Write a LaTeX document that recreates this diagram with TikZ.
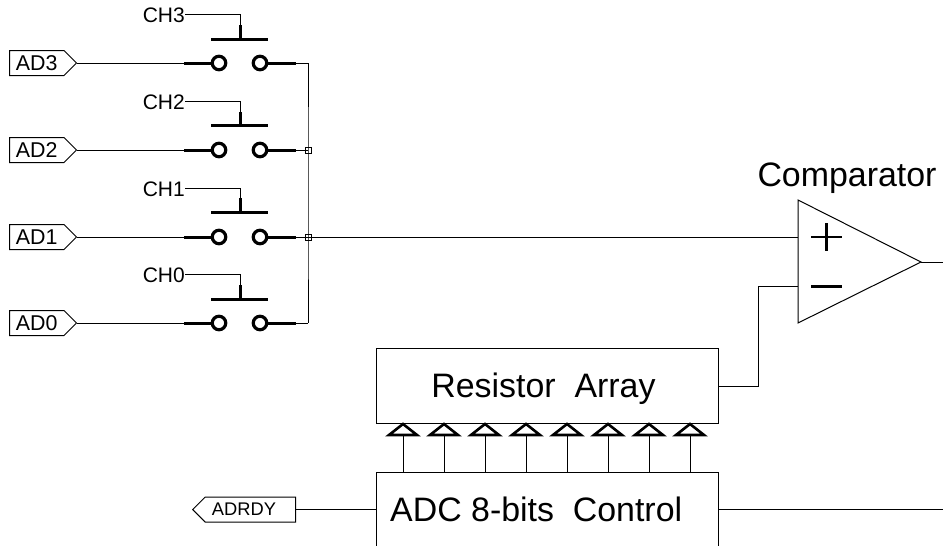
\documentclass[tikz,border=0pt]{standalone}
\usepackage{fontspec}
\setmainfont{Liberation Sans}
\usetikzlibrary{shapes.symbols}
\tikzset{
  wire/.style={black,line width=1pt},
  heavy/.style={black,line width=3pt},
  contact/.style={circle,draw=black,line width=3.2pt,minimum size=13.5pt,inner sep=0pt},
  tag/.style={signal,signal to=east,signal pointer angle=90,draw=black,line width=1pt,minimum width=67pt,minimum height=25pt,inner sep=0pt,font=\fontsize{21.4}{21.4}\selectfont},
  rdytag/.style={signal,signal to=west,signal pointer angle=90,draw=black,line width=1pt,minimum width=103pt,minimum height=25pt,inner sep=0pt,font=\fontsize{18.3}{18.3}\selectfont},
  chlabel/.style={anchor=base east,inner sep=0pt,font=\fontsize{21}{21}\selectfont},
  junction/.style={rectangle,draw=black,line width=0.8pt,minimum size=6pt,inner sep=0pt},
  bigtext/.style={anchor=base west,inner sep=0pt,font=\fontsize{33.9}{33.9}\selectfont},
  block/.style={rectangle,draw=black,line width=1pt,inner sep=0pt},
  tap/.style={black,line width=2.6pt,line join=miter}
}
\begin{document}
\begin{tikzpicture}[x=1pt,y=-1pt]
\useasboundingbox (0,0) rectangle (943,546);
\node [tag,anchor=west] (ad3) at (9,63) {AD3};
\node [tag,anchor=west] (ad2) at (9,150) {AD2};
\node [tag,anchor=west] (ad1) at (9,237) {AD1};
\node [tag,anchor=west] (ad0) at (9,323) {AD0};
\node [contact] (l3) at (219,63) {};
\node [contact] (r3) at (260,63) {};
\node [contact] (l2) at (219,150) {};
\node [contact] (r2) at (260,150) {};
\node [contact] (l1) at (219,237) {};
\node [contact] (r1) at (260,237) {};
\node [contact] (l0) at (219,323) {};
\node [contact] (r0) at (260,323) {};
\coordinate (in3) at (184,63);
\coordinate (in2) at (184,150);
\coordinate (in1) at (184,237);
\coordinate (in0) at (184,323);
\coordinate (out3) at (296,63);
\coordinate (out2) at (296,150);
\coordinate (out1) at (296,237);
\coordinate (out0) at (296,323);
\coordinate (j3) at (308,63);
\node [junction] (j2) at (308,150) {};
\node [junction] (j1) at (308,237) {};
\coordinate (j0) at (308,323);
\draw [wire] (ad3.east) -- (in3);
\draw [wire] (ad2.east) -- (in2);
\draw [wire] (ad1.east) -- (in1);
\draw [wire] (ad0.east) -- (in0);
\draw [heavy] (in3) -- (l3.west);
\draw [heavy] (in2) -- (l2.west);
\draw [heavy] (in1) -- (l1.west);
\draw [heavy] (in0) -- (l0.west);
\draw [heavy] (r3.east) -- (out3);
\draw [heavy] (r2.east) -- (out2);
\draw [heavy] (r1.east) -- (out1);
\draw [heavy] (r0.east) -- (out0);
\draw [wire] (out3) -- (j3);
\draw [wire] (out2) -- (j2.center);
\draw [wire] (out1) -- (j1.center);
\draw [wire] (out0) -- (j0);
\draw [wire] (j3) -- (j2.center) -- (j1.center) -- (j0);
\node [chlabel] (ch3) at (185,22) {CH3};
\node [chlabel] (ch2) at (185,109) {CH2};
\node [chlabel] (ch1) at (185,196) {CH1};
\node [chlabel] (ch0) at (185,282) {CH0};
\coordinate (s3) at (240,25);
\coordinate (s2) at (240,112);
\coordinate (s1) at (240,198);
\coordinate (s0) at (240,285);
\coordinate (c3) at (240,39);
\coordinate (c2) at (240,125.5);
\coordinate (c1) at (240,212);
\coordinate (c0) at (240,299);
\draw [wire] (ch3.east) -| (s3);
\draw [wire] (ch2.east) -| (s2);
\draw [wire] (ch1.east) -| (s1);
\draw [wire] (ch0.east) -| (s0);
\draw [heavy] (s3) -- (c3);
\draw [heavy] (s2) -- (c2);
\draw [heavy] (s1) -- (c1);
\draw [heavy] (s0) -- (c0);
\draw [heavy] (211,39) -- (268,39);
\draw [heavy] (211,125.5) -- (268,125.5);
\draw [heavy] (211,212) -- (268,212);
\draw [heavy] (211,299) -- (268,299);
\coordinate (cmptop) at (798,200);
\coordinate (cmpbot) at (798,323);
\coordinate (cmptip) at (921,262);
\coordinate (cmpplus) at (798,237);
\coordinate (cmpminus) at (798,286);
\coordinate (cmpout) at (943,262);
\draw [wire] (cmptop) -- (cmptip) -- (cmpbot) -- cycle;
\draw [wire] (cmptip) -- (cmpout);
\draw [wire] (j1.center) -- (cmpplus);
\draw [black,line width=2.6pt] (811,237) -- (842,237);
\draw [black,line width=2.6pt] (826.5,223) -- (826.5,251);
\draw [black,line width=3pt] (811,286) -- (842,286);
\node [bigtext,anchor=base] (cmplabel) at (847,186) {Comparator};
\node [block,minimum width=342pt,minimum height=75pt] (res) at (547,386) {};
\node [bigtext,anchor=base] at (543.5,397) {Resistor\ \ Array};
\draw [wire] (res.east) -- (758,386) -- (758,286) -- (cmpminus);
\coordinate (adctl) at (376,472);
\coordinate (adctr) at (718,472);
\coordinate (adcbl) at (376,546);
\coordinate (adcbr) at (718,546);
\draw [wire] (adcbl) -- (adctl) -- (adctr) -- (adcbr);
\node [bigtext] (adc) at (390,521.5) {ADC 8-bits\ \ Control};
\node [rdytag,anchor=west] (adrdy) at (192,509.5) {ADRDY\hspace*{13pt}};
\coordinate (adcin) at (376,509.5);
\coordinate (adcout) at (718,509.5);
\coordinate (adcend) at (943,509.5);
\draw [wire] (adrdy.east) -- (adcin);
\draw [wire] (adcout) -- (adcend);
\coordinate (t0) at (403,436);
\coordinate (t1) at (444,436);
\coordinate (t2) at (485,436);
\coordinate (t3) at (526,436);
\coordinate (t4) at (567,436);
\coordinate (t5) at (608,436);
\coordinate (t6) at (649,436);
\coordinate (t7) at (690,436);
\draw [wire] (t0) -- (403,472);
\draw [wire] (t1) -- (444,472);
\draw [wire] (t2) -- (485,472);
\draw [wire] (t3) -- (526,472);
\draw [wire] (t4) -- (567,472);
\draw [wire] (t5) -- (608,472);
\draw [wire] (t6) -- (649,472);
\draw [wire] (t7) -- (690,472);
\draw [tap] (389,435) -- (403,424) -- (417,435) -- cycle;
\draw [tap] (430,435) -- (444,424) -- (458,435) -- cycle;
\draw [tap] (471,435) -- (485,424) -- (499,435) -- cycle;
\draw [tap] (512,435) -- (526,424) -- (540,435) -- cycle;
\draw [tap] (553,435) -- (567,424) -- (581,435) -- cycle;
\draw [tap] (594,435) -- (608,424) -- (622,435) -- cycle;
\draw [tap] (635,435) -- (649,424) -- (663,435) -- cycle;
\draw [tap] (676,435) -- (690,424) -- (704,435) -- cycle;
\end{tikzpicture}
\end{document}
